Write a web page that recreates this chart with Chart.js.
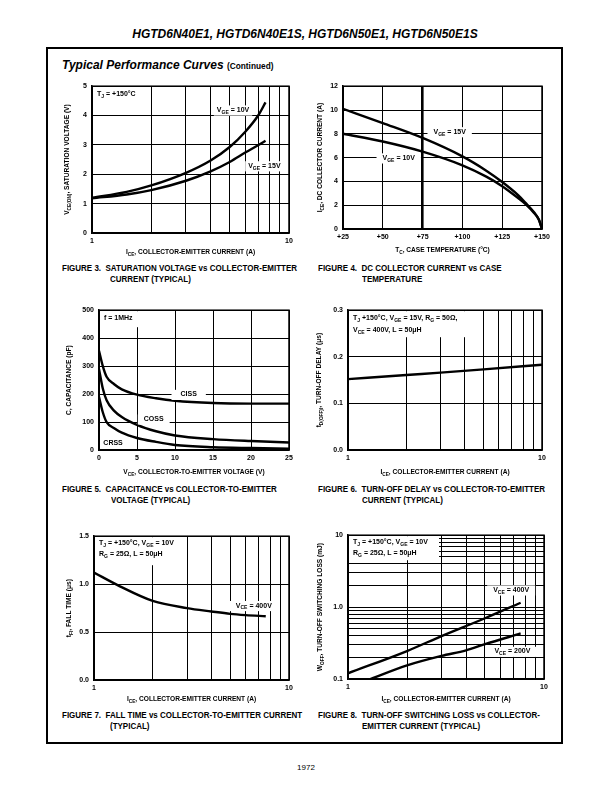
<!DOCTYPE html>
<html><head><meta charset="utf-8">
<script src="https://cdn.jsdelivr.net/npm/chart.js@4/dist/chart.umd.min.js"></script>
<style>
body{margin:0;background:#fff;width:612px;height:792px;position:relative;overflow:hidden;font-family:"Liberation Sans",Arial,sans-serif;color:#000}
.a{position:absolute;white-space:nowrap}
.hdr{left:0;width:610px;text-align:center;top:27px;font:italic bold 12px "Liberation Sans",Arial,sans-serif}
.frame{left:46px;top:47px;width:517px;height:697px;border:2px solid #000;box-sizing:border-box}
.sec{left:62px;top:58px;font:italic bold 12px "Liberation Sans",Arial,sans-serif}
.sec span{font-style:normal;font-size:8.3px}
.cap{font:bold 8.6px "Liberation Sans",Arial,sans-serif;transform:scaleX(0.93);transform-origin:0 0}
.pg{left:0;width:612px;text-align:center;top:763px;font:8px "Liberation Sans",Arial,sans-serif}
canvas{position:absolute}
</style></head><body>
<div class="a hdr">HGTD6N40E1, HGTD6N40E1S, HGTD6N50E1, HGTD6N50E1S</div>
<div class="a frame"></div>
<div class="a sec">Typical Performance Curves <span>(Continued)</span></div>

<div class="a cap" style="left:62px;top:263px">FIGURE 3.&nbsp; SATURATION VOLTAGE vs COLLECTOR-EMITTER</div>
<div class="a cap" style="left:110px;top:274px">CURRENT (TYPICAL)</div>
<div class="a cap" style="left:318px;top:263px">FIGURE 4.&nbsp; DC COLLECTOR CURRENT vs CASE</div>
<div class="a cap" style="left:362px;top:274px">TEMPERATURE</div>
<div class="a cap" style="left:62px;top:484px">FIGURE 5.&nbsp; CAPACITANCE vs COLLECTOR-TO-EMITTER</div>
<div class="a cap" style="left:111px;top:495px">VOLTAGE (TYPICAL)</div>
<div class="a cap" style="left:318px;top:484px">FIGURE 6.&nbsp; TURN-OFF DELAY vs COLLECTOR-TO-EMITTER</div>
<div class="a cap" style="left:362px;top:495px">CURRENT (TYPICAL)</div>
<div class="a cap" style="left:62px;top:710px">FIGURE 7.&nbsp; FALL TIME vs COLLECTOR-TO-EMITTER CURRENT</div>
<div class="a cap" style="left:110px;top:721px">(TYPICAL)</div>
<div class="a cap" style="left:318px;top:710px">FIGURE 8.&nbsp; TURN-OFF SWITCHING LOSS vs COLLECTOR-</div>
<div class="a cap" style="left:362px;top:721px">EMITTER CURRENT (TYPICAL)</div>
<div class="a pg">1972</div>

<script>
// ---------- DATA ----------
// Figure 3: saturation voltage vs collector-emitter current
const fig3Current = [1, 1.5, 2, 3, 4, 5, 6, 7, 7.6];
const fig3Vge10   = [1.2, 1.4, 1.62, 2.05, 2.47, 2.93, 3.45, 4.02, 4.45];
const fig3Vge15   = [1.18, 1.31, 1.46, 1.78, 2.1, 2.42, 2.74, 3.0, 3.14];
const fig3XTicks  = [1, 2, 3, 4, 5, 6, 7, 8, 9, 10];
const fig3XLabels = ['1', '', '', '', '', '', '', '', '', '10'];
const fig3YTicks  = [0, 1, 2, 3, 4, 5];
const fig3YLabels = ['0', '1', '2', '3', '4', '5'];

// Figure 4: DC collector current vs case temperature
const fig4Temp    = [25, 50, 75, 100, 115, 125, 135, 140, 145, 148, 150];
const fig4Vge15   = [10.1, 8.9, 7.65, 6.1, 4.9, 3.95, 2.85, 2.15, 1.4, 0.8, 0];
const fig4Vge10   = [8.0, 7.35, 6.5, 5.35, 4.4, 3.6, 2.6, 2.05, 1.35, 0.8, 0];
const fig4XTicks  = [25, 50, 75, 100, 125, 150];
const fig4XLabels = ['+25', '+50', '+75', '+100', '+125', '+150'];
const fig4YTicks  = [0, 2, 4, 6, 8, 10, 12];
const fig4YLabels = ['0', '2', '4', '6', '8', '10', '12'];

// Figure 5: capacitance vs collector-to-emitter voltage
const fig5Vce     = [0, 0.5, 1, 2, 3, 5, 7.5, 10, 15, 20, 25];
const fig5Ciss    = [355, 300, 262, 235, 217, 198, 185, 176, 168, 166, 166];
const fig5Coss    = [290, 220, 178, 140, 118, 90, 67, 52, 39, 32, 27];
const fig5Crss    = [190, 135, 100, 78, 62, 43, 29, 18, 10, 7, 5];
const fig5XTicks  = [0, 5, 10, 15, 20, 25];
const fig5XLabels = ['0', '5', '10', '15', '20', '25'];
const fig5YTicks  = [0, 100, 200, 300, 400, 500];
const fig5YLabels = ['0', '100', '200', '300', '400', '500'];

// Figure 6: turn-off delay vs collector-emitter current
const fig6Current = [1, 2, 3, 5, 10];
const fig6Delay   = [0.152, 0.161, 0.166, 0.173, 0.183];
const fig6XTicks  = [1, 2, 3, 4, 5, 6, 7, 8, 9, 10];
const fig6XLabels = ['1', '', '', '', '', '', '', '', '', '10'];
const fig6YTicks  = [0, 0.1, 0.2, 0.3];
const fig6YLabels = ['0.0', '0.1', '0.2', '0.3'];

// Figure 7: fall time vs collector-emitter current
const fig7Current = [1, 1.35, 2, 3, 4, 5, 6, 7.6];
const fig7Fall    = [1.12, 0.98, 0.825, 0.75, 0.715, 0.69, 0.677, 0.665];
const fig7XTicks  = [1, 2, 3, 4, 5, 6, 7, 8, 9, 10];
const fig7XLabels = ['1', '', '', '', '', '', '', '', '', '10'];
const fig7YTicks  = [0, 0.5, 1.0, 1.5];
const fig7YLabels = ['0.0', '0.5', '1.0', '1.5'];

// Figure 8: turn-off switching loss vs collector-emitter current
const fig8Current400 = [1, 2, 3, 5, 7.6];
const fig8Loss400    = [0.12, 0.245, 0.395, 0.70, 1.15];
const fig8Current200 = [1.3, 2, 3, 4, 5, 7.6];
const fig8Loss200    = [0.1, 0.155, 0.21, 0.25, 0.305, 0.43];
const fig8XTicks  = [1, 2, 3, 4, 5, 6, 7, 8, 9, 10];
const fig8XLabels = ['1', '', '', '', '', '', '', '', '', '10'];
const fig8YTicks  = [0.1, 0.2, 0.3, 0.4, 0.5, 0.6, 0.7, 0.8, 0.9, 1, 2, 3, 4, 5, 6, 7, 8, 9, 10];
const fig8YLabels = ['0.1', '', '', '', '', '', '', '', '', '1.0', '', '', '', '', '', '', '', '', '10'];

// ---------- RENDERING ----------
const FAM = '"Liberation Sans", Arial, sans-serif';
function richParts(s){
  const parts=[]; const re=/_\{([^}]*)\}/g; let last=0, m;
  while((m=re.exec(s))){ if(m.index>last) parts.push({t:s.slice(last,m.index)}); parts.push({t:m[1],sub:true}); last=re.lastIndex; }
  if(last<s.length) parts.push({t:s.slice(last)});
  return parts;
}
function drawRich(ctx, s, x, y, o){
  const parts=richParts(s), size=o.size||6.5;
  ctx.save(); ctx.translate(x,y); if(o.rot) ctx.rotate(o.rot);
  let w=0;
  for(const p of parts){ ctx.font=`bold ${p.sub?size*0.72:size}px ${FAM}`; p.w=ctx.measureText(p.t).width; w+=p.w; }
  let cx = o.align==='center' ? -w/2 : 0;
  if(o.bg!==undefined && o.bg!==false){ ctx.fillStyle='#fff'; ctx.fillRect(cx-o.bg, -size*0.95, w+2*o.bg, size*1.45); }
  ctx.fillStyle='#000'; ctx.textAlign='left'; ctx.textBaseline='alphabetic';
  for(const p of parts){ ctx.font=`bold ${p.sub?size*0.72:size}px ${FAM}`; ctx.fillText(p.t, cx, p.sub?size*0.25:0); cx+=p.w; }
  ctx.restore();
  return w;
}
function pts(xs, ys){ return xs.map((x,i)=>({x:x, y:ys[i]})); }

function makePlugin(o){
  return { id:'annot'+Math.random().toString(36).slice(2),
    afterDatasetsDraw(chart){
      const ctx=chart.ctx, a=chart.chartArea, xs=chart.scales.x, ys=chart.scales.y;
      if(o.box){
        ctx.fillStyle='#fff';
        ctx.fillRect(a.left+1, a.top+1, o.box.w, o.box.h);
        o.box.lines.forEach((t,i)=>drawRich(ctx, t, a.left+o.box.dx, a.top+o.box.dy+i*o.box.lh, {size:7}));
      }
      for(const n of (o.notes||[])){
        const px=xs.getPixelForValue(n.x), py=ys.getPixelForValue(n.y);
        drawRich(ctx, n.t, px, py+2.4, {size:7, align:'center', bg:n.bg});
      }
      ctx.save(); ctx.strokeStyle='#000'; ctx.lineWidth=1.5;
      ctx.strokeRect(a.left, a.top, a.right-a.left, a.bottom-a.top); ctx.restore();
      drawRich(ctx, o.xTitle, (a.left+a.right)/2, a.bottom+o.xTitleDy+2.3, {size:6.6, align:'center'});
      drawRich(ctx, o.yTitle, a.left-o.yTitleDx+2.3, (a.top+a.bottom)/2, {size:6.6, align:'center', rot:-Math.PI/2});
    }
  };
}

function makeChart(o){
  const PADL=48, PADT=8, PADR=14, PADB=32;
  const w=o.area[1]-o.area[0], h=o.area[3]-o.area[2];
  const c=document.createElement('canvas');
  c.width=Math.round(w+PADL+PADR); c.height=Math.round(h+PADT+PADB);
  c.style.left=(o.area[0]-PADL)+'px'; c.style.top=(o.area[2]-PADT)+'px';
  c.style.width=c.width+'px'; c.style.height=c.height+'px';
  document.body.appendChild(c);
  const tickFont={family:FAM, size:7, weight:'bold'};
  new Chart(c, {
    type:'line',
    data:{datasets:o.series.map(s=>({data:pts(s.x,s.y), borderColor:'#000', borderWidth:2.4,
      pointRadius:0, fill:false, cubicInterpolationMode:'monotone', borderCapStyle:'butt'}))},
    options:{
      responsive:false, animation:false, devicePixelRatio:1, events:[],
      layout:{padding:{left:0, top:PADT, right:PADR, bottom:0}},
      plugins:{legend:{display:false}, tooltip:{enabled:false}},
      scales:{
        x:{type:o.xType, min:o.xTicks[0], max:o.xTicks[o.xTicks.length-1],
          afterBuildTicks:s=>{ s.ticks=o.xTicks.map(v=>({value:v})); },
          afterFit:s=>{ s.height=PADB; },
          ticks:{callback:(v,i)=>o.xLabels[i], font:tickFont, color:'#000', padding:4, maxRotation:0, minRotation:0, autoSkip:false},
          grid:{color:'#000', lineWidth:o.xGridWidth||1, drawTicks:false},
          border:{color:'#000', width:1.5}},
        y:{type:o.yType, min:o.yTicks[0], max:o.yTicks[o.yTicks.length-1],
          afterBuildTicks:s=>{ s.ticks=o.yTicks.map(v=>({value:v})); },
          afterFit:s=>{ s.width=PADL; },
          ticks:{callback:(v,i)=>o.yLabels[i], font:tickFont, color:'#000', padding:5, autoSkip:false},
          grid:{color:'#000', lineWidth:1, drawTicks:false},
          border:{color:'#000', width:1.5}}
      }
    },
    plugins:[makePlugin(o)]
  });
}

// Figure 3
makeChart({area:[92,289,85,233], xType:'logarithmic', yType:'linear',
  xTicks:fig3XTicks, xLabels:fig3XLabels, yTicks:fig3YTicks, yLabels:fig3YLabels,
  series:[{x:fig3Current,y:fig3Vge10},{x:fig3Current,y:fig3Vge15}],
  xTitle:'I_{CE}, COLLECTOR-EMITTER CURRENT (A)', xTitleDy:19,
  yTitle:'V_{CE(ON)}, SATURATION VOLTAGE (V)', yTitleDx:25,
  box:{lines:['T_{J} = +150°C'], w:54, h:16, dx:5, dy:10, lh:11},
  notes:[{t:'V_{GE} = 10V', x:5.2, y:4.2, bg:3},{t:'V_{GE} = 15V', x:7.5, y:2.3, bg:3}]});

// Figure 4
makeChart({area:[343,542,85,229], xType:'linear', yType:'linear',
  xTicks:fig4XTicks, xLabels:fig4XLabels, yTicks:fig4YTicks, yLabels:fig4YLabels,
  xGridWidth:(ctx)=>(ctx.tick && ctx.tick.value===75)?2.6:1,
  series:[{x:fig4Temp,y:fig4Vge15},{x:fig4Temp,y:fig4Vge10}],
  xTitle:'T_{C}, CASE TEMPERATURE (°C)', xTitleDy:21,
  yTitle:'I_{CE}, DC COLLECTOR CURRENT (A)', yTitleDx:23,
  notes:[{t:'V_{GE} = 15V', x:92, y:8.2, bg:6},{t:'V_{GE} = 10V', x:60, y:6, bg:6}]});

// Figure 5
makeChart({area:[99,289,309,450], xType:'linear', yType:'linear',
  xTicks:fig5XTicks, xLabels:fig5XLabels, yTicks:fig5YTicks, yLabels:fig5YLabels,
  series:[{x:fig5Vce,y:fig5Ciss},{x:fig5Vce,y:fig5Coss},{x:fig5Vce,y:fig5Crss}],
  xTitle:'V_{CE}, COLLECTOR-TO-EMITTER VOLTAGE (V)', xTitleDy:22,
  yTitle:'C, CAPACITANCE (pF)', yTitleDx:30,
  box:{lines:['f = 1MHz'], w:40, h:16, dx:5, dy:10, lh:11},
  notes:[{t:'CISS', x:11.8, y:200, bg:9},{t:'COSS', x:7.2, y:112, bg:6},{t:'CRSS', x:1.85, y:28, bg:2}]});

// Figure 6
makeChart({area:[348,542,309,450], xType:'logarithmic', yType:'linear',
  xTicks:fig6XTicks, xLabels:fig6XLabels, yTicks:fig6YTicks, yLabels:fig6YLabels,
  series:[{x:fig6Current,y:fig6Delay}],
  xTitle:'I_{CE}, COLLECTOR-EMITTER CURRENT (A)', xTitleDy:22,
  yTitle:'t_{D(OFF)I}, TURN-OFF DELAY (μs)', yTitleDx:29,
  box:{lines:['T_{J} +150°C, V_{GE} = 15V, R_{G} = 50Ω,','V_{CE} = 400V, L = 50μH'], w:118, h:26, dx:5, dy:10, lh:12}});

// Figure 7
makeChart({area:[94,289,535,680], xType:'logarithmic', yType:'linear',
  xTicks:fig7XTicks, xLabels:fig7XLabels, yTicks:fig7YTicks, yLabels:fig7YLabels,
  series:[{x:fig7Current,y:fig7Fall}],
  xTitle:'I_{CE}, COLLECTOR-EMITTER CURRENT (A)', xTitleDy:19,
  yTitle:'t_{FI}, FALL TIME (μs)', yTitleDx:25,
  box:{lines:['T_{J} = +150°C, V_{GE} = 10V','R_{G} = 25Ω, L = 50μH'], w:92, h:28, dx:5, dy:9, lh:11},
  notes:[{t:'V_{CE} = 400V', x:6.6, y:0.78, bg:6}]});

// Figure 8
makeChart({area:[348,544,534,679], xType:'logarithmic', yType:'logarithmic',
  xTicks:fig8XTicks, xLabels:fig8XLabels, yTicks:fig8YTicks, yLabels:fig8YLabels,
  series:[{x:fig8Current400,y:fig8Loss400},{x:fig8Current200,y:fig8Loss200}],
  xTitle:'I_{CE}, COLLECTOR-EMITTER CURRENT (A)', xTitleDy:20,
  yTitle:'W_{OFF}, TURN-OFF SWITCHING LOSS (mJ)', yTitleDx:28,
  box:{lines:['T_{J} = +150°C, V_{GE} = 10V','R_{G} = 25Ω, L = 50μH'], w:90, h:24, dx:5, dy:9, lh:11},
  notes:[{t:'V_{CE} = 400V', x:6.8, y:1.75, bg:6},{t:'V_{CE} = 200V', x:6.9, y:0.245, bg:6}]});
</script>
</body></html>
